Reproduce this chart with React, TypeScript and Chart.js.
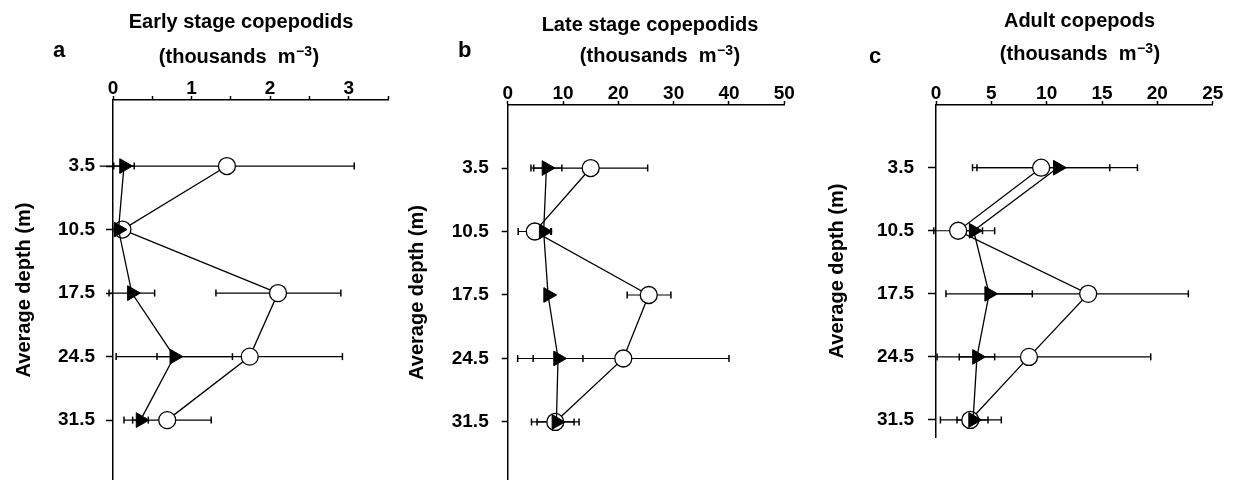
import React, { useEffect, useRef } from 'react';
import { Chart, registerables } from 'chart.js';

Chart.register(...registerables);

const FONT = '"Liberation Sans", Arial, Helvetica, sans-serif';

// ---------- data ----------
const depths = [3.5, 10.5, 17.5, 24.5, 31.5];
const depthTickLabels = ['3.5', '10.5', '17.5', '24.5', '31.5'];

// a: Early stage copepodids
const earlyXTicks = [0, 0.5, 1, 1.5, 2, 2.5, 3, 3.5];
const earlyXLabels = ['0', '', '1', '', '2', '', '3', ''];
const earlyTri = [0.14, 0.07, 0.24, 0.78, 0.35];
const earlyTriLo = [0.01, 0.03, -0.05, 0.04, 0.25];
const earlyTriHi = [0.27, 0.11, 0.53, 1.52, 0.45];
const earlyCirc = [1.45, 0.12, 2.1, 1.74, 0.69];
const earlyCircLo = [-0.17, 0.07, 1.31, 0.56, 0.14];
const earlyCircHi = [3.07, 0.17, 2.9, 2.92, 1.25];

// b: Late stage copepodids
const lateXTicks = [0, 10, 20, 30, 40, 50];
const lateXLabels = ['0', '10', '20', '30', '40', '50'];
const lateTri = [7.0, 6.5, 7.3, 9.1, 8.8];
const lateTriLo = [4.2, 5.3, null, 4.6, 5.3];
const lateTriHi = [9.8, 7.8, null, 13.6, 12.0];
const lateCirc = [15.0, 4.9, 25.5, 20.9, 8.6];
const lateCircLo = [4.7, 1.9, 21.6, 1.8, 4.3];
const lateCircHi = [25.3, 7.9, 29.5, 40.0, 12.9];

// c: Adult copepods
const adultXTicks = [0, 5, 10, 15, 20, 25];
const adultXLabels = ['0', '5', '10', '15', '20', '25'];
const adultTri = [11.0, 3.4, 4.8, 3.7, 3.35];
const adultTriLo = [3.7, 1.5, 0.9, 2.1, 1.9];
const adultTriHi = [18.2, 5.3, 8.7, 5.3, 4.7];
const adultCirc = [9.5, 2.0, 13.75, 8.4, 3.1];
const adultCircLo = [3.3, -0.2, 4.7, 0.1, 0.4];
const adultCircHi = [15.7, 4.2, 22.8, 19.4, 5.9];

// ---------- helpers ----------
type Num = number | null;

function errorBarSets(lo: Num[], hi: Num[]) {
  const sets: any[] = [];
  depths.forEach((d, i) => {
    const l = lo[i];
    const h = hi[i];
    if (l == null || h == null) return;
    sets.push({
      data: [{ x: l, y: d }, { x: h, y: d }],
      showLine: true,
      borderColor: '#000',
      borderWidth: 1.2,
      pointStyle: 'line',
      pointRotation: 90,
      pointRadius: 3.5,
      pointBorderWidth: 1.5,
      pointBorderColor: '#000',
      pointBackgroundColor: '#000',
      clip: false,
      order: 3,
    });
  });
  return sets;
}

function buildDatasets(tri: number[], triLo: Num[], triHi: Num[], circ: number[], circLo: Num[], circHi: Num[]) {
  return [
    {
      data: depths.map((d, i) => ({ x: tri[i], y: d })),
      showLine: true,
      borderColor: '#000',
      borderWidth: 1.3,
      pointStyle: 'triangle',
      pointRotation: 90,
      pointRadius: 8.5,
      pointBackgroundColor: '#000',
      pointBorderColor: '#000',
      pointBorderWidth: 1,
      clip: false,
      order: 1,
    },
    {
      data: depths.map((d, i) => ({ x: circ[i], y: d })),
      showLine: true,
      borderColor: '#000',
      borderWidth: 1.3,
      pointStyle: 'circle',
      pointRadius: 8.5,
      pointBackgroundColor: '#fff',
      pointBorderColor: '#000',
      pointBorderWidth: 1.3,
      clip: false,
      order: 2,
    },
    ...errorBarSets(triLo, triHi),
    ...errorBarSets(circLo, circHi),
  ];
}

const panelTextPlugin = {
  id: 'panelText',
  afterDraw(chart: any, _args: any, opts: any) {
    const ctx = chart.ctx as CanvasRenderingContext2D;
    ctx.save();
    ctx.fillStyle = '#000';
    ctx.textBaseline = 'alphabetic';
    ctx.textAlign = 'left';
    ctx.font = `bold 22px ${FONT}`;
    ctx.fillText(opts.letter, opts.letterX, opts.letterY);

    ctx.font = `bold 20px ${FONT}`;
    ctx.textAlign = 'center';
    ctx.fillText(opts.line1, opts.line1X, opts.line1Y);

    const a = '(thousands  m';
    const s = '\u22123';
    const b = ')';
    ctx.textAlign = 'left';
    ctx.font = `bold 20px ${FONT}`;
    const wa = ctx.measureText(a).width;
    const wb = ctx.measureText(b).width;
    ctx.font = `bold 14px ${FONT}`;
    const ws = ctx.measureText(s).width;
    const total = wa + ws + wb + 1;
    let x = opts.line2X - total / 2;
    ctx.font = `bold 20px ${FONT}`;
    ctx.fillText(a, x, opts.line2Y);
    x += wa + 0.5;
    ctx.font = `bold 14px ${FONT}`;
    ctx.fillText(s, x, opts.line2Y - 7);
    x += ws + 0.5;
    ctx.font = `bold 20px ${FONT}`;
    ctx.fillText(b, x, opts.line2Y);
    ctx.restore();
  },
};

type PanelCfg = {
  left: number;
  width: number;
  datasets: any[];
  xMax: number;
  xTicks: number[];
  xLabels: string[];
  yMin: number;
  yMax: number;
  yWidth: number;
  padTop: number;
  xHeight: number;
  padRight: number;
  padBottom: number;
  yTickLen: number;
  yTickPad: number;
  yTitlePad: number;
  text: any;
};

const panels: PanelCfg[] = [
  {
    left: 0,
    width: 400,
    datasets: buildDatasets(earlyTri, earlyTriLo, earlyTriHi, earlyCirc, earlyCircLo, earlyCircHi),
    xMax: 3.5,
    xTicks: earlyXTicks,
    xLabels: earlyXLabels,
    yMin: -3.78,
    yMax: 38.1,
    yWidth: 113,
    padTop: 60,
    xHeight: 40,
    padRight: 12,
    padBottom: 0,
    yTickLen: 7,
    yTickPad: 11,
    yTitlePad: 12,
    text: {
      letter: 'a', letterX: 53, letterY: 57,
      line1: 'Early stage copepodids', line1X: 241, line1Y: 28,
      line2X: 239, line2Y: 63,
    },
  },
  {
    left: 400,
    width: 410,
    datasets: buildDatasets(lateTri, lateTriLo, lateTriHi, lateCirc, lateCircLo, lateCircHi),
    xMax: 50,
    xTicks: lateXTicks,
    xLabels: lateXLabels,
    yMin: -3.45,
    yMax: 37.9,
    yWidth: 107.7,
    padTop: 60,
    xHeight: 45,
    padRight: 25.7,
    padBottom: 0,
    yTickLen: 6,
    yTickPad: 13,
    yTitlePad: 5,
    text: {
      letter: 'b', letterX: 58, letterY: 57,
      line1: 'Late stage copepodids', line1X: 250, line1Y: 31,
      line2X: 260, line2Y: 62,
    },
  },
  {
    left: 815,
    width: 419,
    datasets: buildDatasets(adultTri, adultTriLo, adultTriHi, adultCirc, adultCircLo, adultCircHi),
    xMax: 25,
    xTicks: adultXTicks,
    xLabels: adultXLabels,
    yMin: -3.46,
    yMax: 33.39,
    yWidth: 121,
    padTop: 60,
    xHeight: 45,
    padRight: 21.3,
    padBottom: 43,
    yTickLen: 8,
    yTickPad: 14,
    yTitlePad: 10,
    text: {
      letter: 'c', letterX: 54, letterY: 63,
      line1: 'Adult copepods', line1X: 264.5, line1Y: 27,
      line2X: 265, line2Y: 60,
    },
  },
];

function Panel({ cfg }: { cfg: PanelCfg }) {
  const ref = useRef<HTMLCanvasElement>(null);
  useEffect(() => {
    if (!ref.current) return;
    const chart = new Chart(ref.current, {
      type: 'scatter',
      data: { datasets: cfg.datasets },
      plugins: [panelTextPlugin as any],
      options: {
        animation: false,
        responsive: false,
        events: [],
        layout: {
          autoPadding: false,
          padding: { top: cfg.padTop, left: 0, right: cfg.padRight, bottom: cfg.padBottom },
        },
        plugins: {
          legend: { display: false },
          tooltip: { enabled: false },
          panelText: cfg.text,
        } as any,
        scales: {
          x: {
            type: 'linear',
            position: 'top',
            min: 0,
            max: cfg.xMax,
            afterBuildTicks: (s: any) => {
              s.ticks = cfg.xTicks.map((v) => ({ value: v }));
            },
            afterFit: (s: any) => {
              s.height = cfg.xHeight;
              s.paddingLeft = 0;
              s.paddingRight = 0;
              s.paddingTop = 0;
              s.paddingBottom = 0;
            },
            ticks: {
              autoSkip: false,
              maxRotation: 0,
              padding: 0,
              color: '#000',
              font: { family: FONT, size: 19, weight: 'bold', lineHeight: 0.75 },
              callback: (_v: any, i: number) => cfg.xLabels[i],
            },
            grid: {
              display: true,
              drawOnChartArea: false,
              drawTicks: true,
              tickLength: 4,
              tickWidth: 1.5,
              tickColor: '#000',
              color: '#000',
            },
            border: { display: true, color: '#000', width: 1.5 },
          },
          y: {
            type: 'linear',
            position: 'left',
            reverse: true,
            min: cfg.yMin,
            max: cfg.yMax,
            afterBuildTicks: (s: any) => {
              s.ticks = depths.map((v) => ({ value: v }));
            },
            afterFit: (s: any) => {
              s.width = cfg.yWidth;
              s.paddingLeft = 0;
              s.paddingRight = 0;
              s.paddingTop = 0;
              s.paddingBottom = 0;
            },
            ticks: {
              autoSkip: false,
              padding: cfg.yTickPad,
              color: '#000',
              font: { family: FONT, size: 19, weight: 'bold' },
              callback: (_v: any, i: number) => depthTickLabels[i],
            },
            grid: {
              display: true,
              drawOnChartArea: false,
              drawTicks: true,
              tickLength: cfg.yTickLen,
              tickWidth: 1.5,
              tickColor: '#000',
              color: '#000',
            },
            border: { display: true, color: '#000', width: 1.5 },
            title: {
              display: true,
              text: 'Average depth (m)',
              color: '#000',
              font: { family: FONT, size: 20, weight: 'bold' },
              padding: { top: cfg.yTitlePad, bottom: 0 },
            },
          },
        },
      } as any,
    });
    return () => chart.destroy();
  }, [cfg]);
  return (
    <canvas
      ref={ref}
      width={cfg.width}
      height={480}
      style={{ position: 'absolute', left: cfg.left, top: 0, width: cfg.width, height: 480 }}
    />
  );
}

export default function App() {
  return (
    <div style={{ position: 'absolute', left: 0, top: 0, width: 1234, height: 480, background: '#fff', overflow: 'hidden' }}>
      {panels.map((p, i) => (
        <Panel key={i} cfg={p} />
      ))}
    </div>
  );
}
